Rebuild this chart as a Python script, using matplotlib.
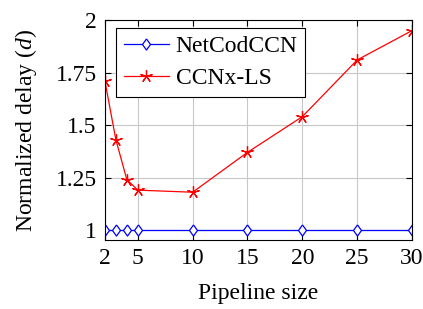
import matplotlib.pyplot as plt
plt.rcParams['font.family'] = 'serif'
plt.rcParams['font.serif'] = ['Liberation Serif', 'DejaVu Serif']
plt.rcParams['mathtext.fontset'] = 'custom'
plt.rcParams['mathtext.it'] = 'Liberation Serif:italic'
plt.rcParams['mathtext.rm'] = 'Liberation Serif'

pipeline = [2, 3, 4, 5, 10, 15, 20, 25, 30]
netcod = [1, 1, 1, 1, 1, 1, 1, 1, 1]
ccnx = [1.71, 1.43, 1.24, 1.19, 1.18, 1.37, 1.54, 1.81, 1.95]
xticks = [2, 5, 10, 15, 20, 25, 30]
yticks = [1, 1.25, 1.5, 1.75, 2]
ylabels = ['1', '1.25', '1.5', '1.75', '2']

# pgfplots-like diamond (taller than wide)
diamond = [(0, 1), (0.72, 0), (0, -1), (-0.72, 0), (0, 1)]

fig = plt.figure(figsize=(4.23, 3.09), dpi=100)
ax = fig.add_axes([0.248, 0.223, 0.726, 0.712])

ax.plot(pipeline, netcod, color='blue', linewidth=0.9, marker=diamond, markersize=8,
        markerfacecolor='white', markeredgecolor='blue', markeredgewidth=0.9, label='NetCodCCN')
ax.plot(pipeline, ccnx, color='red', linewidth=0.9, marker=(5, 2), markersize=9,
        markeredgecolor='red', markeredgewidth=0.9, label='CCNx-LS')

ax.set_xlim(2, 30)
ax.set_ylim(0.952, 2)
ax.set_xticks(xticks)
ax.set_yticks(yticks)
ax.set_yticklabels(ylabels)
ax.grid(True, color='#c8c8c8', linewidth=0.8)
ax.set_axisbelow(True)
ax.tick_params(direction='in', top=True, right=True, labelsize=17, length=4, width=0.8, pad=6)
for s in ax.spines.values():
    s.set_linewidth(0.8)

ax.set_xlabel('Pipeline size', fontsize=17, labelpad=10)
ax.set_ylabel(r'Normalized delay ($d$)', fontsize=17, labelpad=12)

leg = ax.legend(loc='upper left', bbox_to_anchor=(0.036, 0.964), fontsize=17, frameon=True,
                fancybox=False, edgecolor='black', framealpha=1, borderpad=0.33,
                handlelength=1.9, labelspacing=0.45, handletextpad=0.3, borderaxespad=0)
leg.get_frame().set_linewidth(0.8)

fig.savefig('out.png', dpi=100)
